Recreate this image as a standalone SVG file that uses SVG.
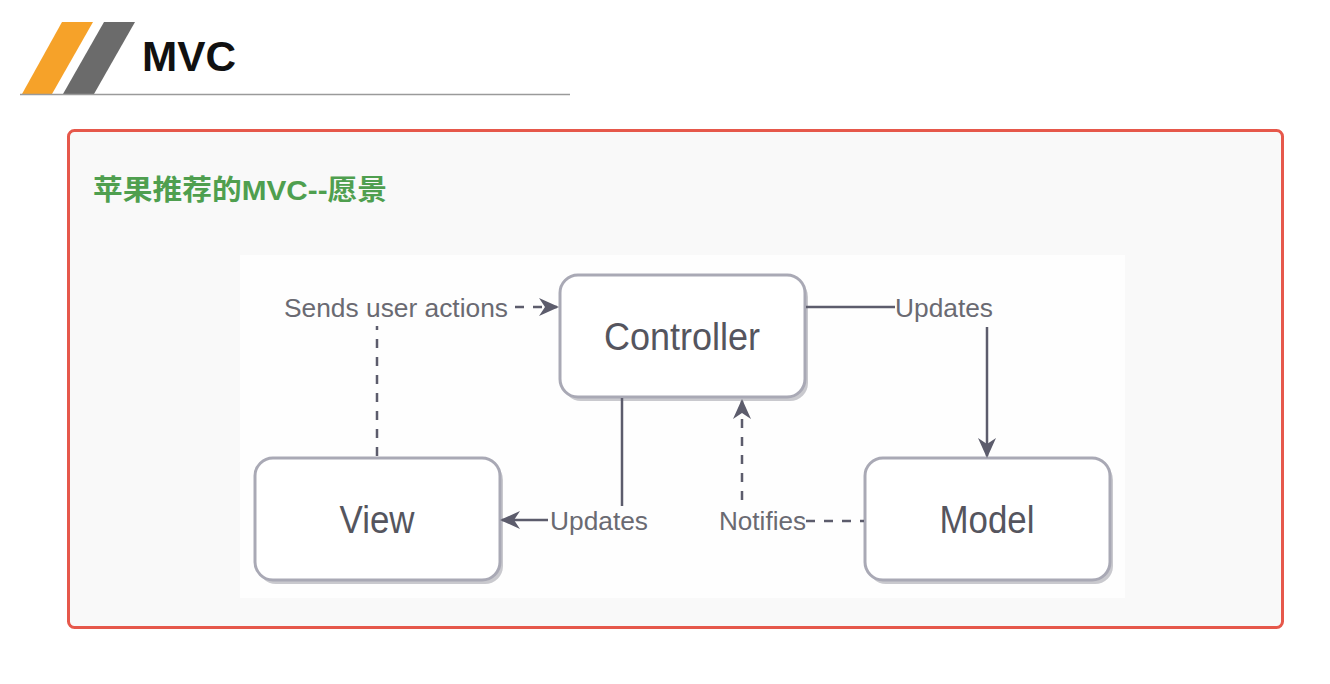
<svg xmlns="http://www.w3.org/2000/svg" width="1330" height="684" viewBox="0 0 1330 684">
<style>
.lbl{font-family:"Liberation Sans",Arial,sans-serif;font-size:25px;fill:#6a6a72}
.node-t{font-family:"Liberation Sans",Arial,sans-serif;font-size:38px;fill:#55555e;text-anchor:middle}
.box{fill:#ffffff;stroke:#a9a9b5;stroke-width:3}
.shadow{fill:#c9c9ce}
.solid{fill:none;stroke:#5c5c6c;stroke-width:2.5}
.dash{fill:none;stroke:#5c5c6c;stroke-width:2.5;stroke-dasharray:9 9}
</style>
<defs>
<marker id="arr" viewBox="0 0 20 20" refX="18" refY="10" markerWidth="20" markerHeight="20" markerUnits="userSpaceOnUse" orient="auto">
<path d="M0,1 L20,10 L0,19 L6,10 Z" fill="#5c5c6c"/>
</marker>
</defs>
<rect x="0" y="0" width="1330" height="684" fill="#ffffff"/>
<g id="header">
<polygon points="62,22 93,22 52,94 22,94" fill="#f6a229"/>
<polygon points="104,22 135,22 94,94 63,94" fill="#6b6b6b"/>
<line x1="20" y1="94.5" x2="570" y2="94.5" stroke="#9a9a9a" stroke-width="1.5"/>
<text x="142" y="71" font-family="Liberation Sans,Arial,sans-serif" font-weight="bold" font-size="42" fill="#111" textLength="94" lengthAdjust="spacingAndGlyphs">MVC</text>
</g>
<g id="frame">
<rect x="68.5" y="130.5" width="1214" height="497" rx="6" fill="#f9f9f9" stroke="#e6584b" stroke-width="3"/>
<text x="93" y="200" font-family="Liberation Sans,'Noto Sans CJK SC',sans-serif" font-weight="bold" font-size="28" fill="#4f9f4f" textLength="294" lengthAdjust="spacingAndGlyphs">苹果推荐的MVC--愿景</text>
<rect x="240" y="255" width="885" height="343" fill="#fefefe"/>
</g>
<g id="controller">
<rect class="shadow" x="563" y="279" width="245" height="122" rx="18"/>
<rect class="box" x="560" y="275" width="245" height="122" rx="18"/>
<text class="node-t" x="682" y="350" textLength="156" lengthAdjust="spacingAndGlyphs">Controller</text>
</g>
<g id="view">
<rect class="shadow" x="258" y="462" width="245" height="122" rx="18"/>
<rect class="box" x="255" y="458" width="245" height="122" rx="18"/>
<text class="node-t" x="377" y="533" textLength="75" lengthAdjust="spacingAndGlyphs">View</text>
</g>
<g id="model">
<rect class="shadow" x="868" y="462" width="245" height="122" rx="18"/>
<rect class="box" x="865" y="458" width="245" height="122" rx="18"/>
<text class="node-t" x="987" y="533" textLength="95" lengthAdjust="spacingAndGlyphs">Model</text>
</g>
<g id="connectors">
<line class="dash" x1="377" y1="456" x2="377" y2="326"/>
<text class="lbl" x="284" y="317" textLength="224" lengthAdjust="spacingAndGlyphs">Sends user actions</text>
<path class="dash" d="M515,307 L557,307" stroke-dasharray="11 9" marker-end="url(#arr)"/>
<line class="solid" x1="622" y1="398" x2="622" y2="506"/>
<text class="lbl" x="550" y="530" textLength="98" lengthAdjust="spacingAndGlyphs">Updates</text>
<path class="solid" d="M548,520 L502,520" marker-end="url(#arr)"/>
<line class="solid" x1="806" y1="307" x2="895" y2="307"/>
<text class="lbl" x="895" y="317" textLength="98" lengthAdjust="spacingAndGlyphs">Updates</text>
<path class="solid" d="M987,327 L987,456" marker-end="url(#arr)"/>
<path class="dash" d="M806,521 L864,521" stroke-dasharray="8 10"/>
<text class="lbl" x="719" y="530" textLength="87" lengthAdjust="spacingAndGlyphs">Notifies</text>
<path class="dash" d="M742,500 L742,401" marker-end="url(#arr)"/>
</g>
</svg>
